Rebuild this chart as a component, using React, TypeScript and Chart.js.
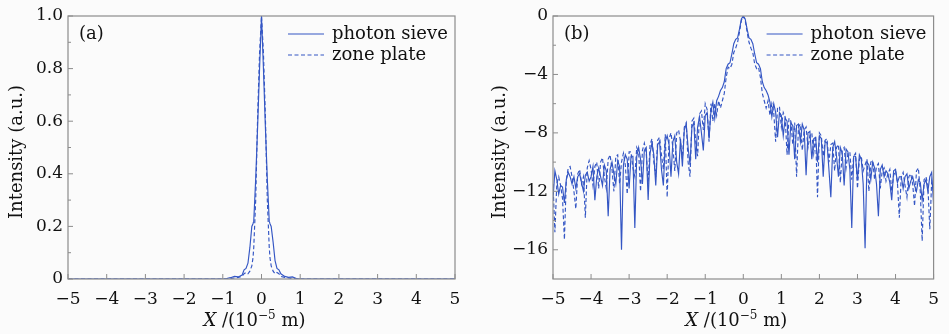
import React, { useEffect, useRef } from "react";
import Chart from "chart.js/auto";

// ---------- data ----------
const X_TICKS = [-5, -4, -3, -2, -1, 0, 1, 2, 3, 4, 5];
const A_Y_TICKS = [0, 0.2, 0.4, 0.6, 0.8, 1.0];
const A_Y_MINOR = [0.1, 0.3, 0.5, 0.7, 0.9];
const B_Y_TICKS = [0, -4, -8, -12, -16];
const B_Y_MINOR = [-2, -6, -10, -14];

// panel (a): linear intensity
const A_X = [-5, -1.0, -0.9, -0.8, -0.7, -0.6, -0.5, -0.45, -0.4, -0.35, -0.3, -0.25, -0.22, -0.2, -0.15, -0.1, -0.05, 0,
  0.05, 0.1, 0.15, 0.2, 0.22, 0.25, 0.3, 0.35, 0.4, 0.45, 0.5, 0.6, 0.7, 0.8, 0.9, 1.0, 5];
const A_SIEVE = [0, 0, 0.002, 0.005, 0.01, 0.008, 0.015, 0.035, 0.04, 0.06, 0.12, 0.2, 0.21, 0.22, 0.38, 0.58, 0.8, 1.0,
  0.8, 0.58, 0.38, 0.22, 0.21, 0.2, 0.14, 0.07, 0.04, 0.035, 0.02, 0.01, 0.006, 0.008, 0.002, 0, 0];
const A_ZONE = [0, 0, 0, 0.002, 0.004, 0.006, 0.01, 0.02, 0.025, 0.02, 0.03, 0.05, 0.08, 0.12, 0.3, 0.62, 0.86, 1.0,
  0.86, 0.62, 0.3, 0.12, 0.08, 0.05, 0.03, 0.02, 0.025, 0.02, 0.01, 0.006, 0.004, 0.002, 0, 0, 0];

// panel (b): logarithmic intensity
const B_X = [
  -5, -4.95, -4.9, -4.85, -4.8, -4.75, -4.7, -4.65, -4.6, -4.55,
  -4.5, -4.45, -4.4, -4.35, -4.3, -4.25, -4.2, -4.15, -4.1, -4.05,
  -4, -3.95, -3.9, -3.85, -3.8, -3.75, -3.7, -3.65, -3.6, -3.55,
  -3.5, -3.45, -3.4, -3.35, -3.3, -3.25, -3.2, -3.15, -3.1, -3.05,
  -3, -2.95, -2.9, -2.85, -2.8, -2.75, -2.7, -2.65, -2.6, -2.55,
  -2.5, -2.45, -2.4, -2.35, -2.3, -2.25, -2.2, -2.15, -2.1, -2.05,
  -2, -1.95, -1.9, -1.85, -1.8, -1.75, -1.7, -1.65, -1.6, -1.55,
  -1.5, -1.45, -1.4, -1.35, -1.3, -1.25, -1.2, -1.15, -1.1, -1.05,
  -1, -0.95, -0.9, -0.85, -0.8, -0.75, -0.7, -0.65, -0.6, -0.55,
  -0.5, -0.45, -0.4, -0.35, -0.3, -0.25, -0.2, -0.15, -0.1, -0.05,
  0,
  0.05, 0.1, 0.15, 0.2, 0.25, 0.3, 0.35, 0.4, 0.45, 0.5,
  0.55, 0.6, 0.65, 0.7, 0.75, 0.8, 0.85, 0.9, 0.95, 1,
  1.05, 1.1, 1.15, 1.2, 1.25, 1.3, 1.35, 1.4, 1.45, 1.5,
  1.55, 1.6, 1.65, 1.7, 1.75, 1.8, 1.85, 1.9, 1.95, 2,
  2.05, 2.1, 2.15, 2.2, 2.25, 2.3, 2.35, 2.4, 2.45, 2.5,
  2.55, 2.6, 2.65, 2.7, 2.75, 2.8, 2.85, 2.9, 2.95, 3,
  3.05, 3.1, 3.15, 3.2, 3.25, 3.3, 3.35, 3.4, 3.45, 3.5,
  3.55, 3.6, 3.65, 3.7, 3.75, 3.8, 3.85, 3.9, 3.95, 4,
  4.05, 4.1, 4.15, 4.2, 4.25, 4.3, 4.35, 4.4, 4.45, 4.5,
  4.55, 4.6, 4.65, 4.7, 4.75, 4.8, 4.85, 4.9, 4.95, 5,
];
const B_SIEVE = [
  -12.5, -10.6, -11.2, -12.2, -11.6, -11.7, -12.8, -11.2, -10.7, -11.0,
  -11.5, -11.0, -11.8, -11.0, -10.8, -11.4, -12.0, -10.9, -10.7, -11.3,
  -11.0, -10.3, -12.6, -11.0, -10.4, -11.0, -11.6, -10.2, -10.6, -13.7,
  -10.5, -10.0, -10.8, -11.5, -9.9, -10.3, -16.0, -10.2, -9.5, -9.8,
  -11.8, -9.6, -9.6, -14.5, -9.6, -9.0, -9.8, -11.5, -9.2, -9.0,
  -12.6, -9.4, -8.7, -9.5, -11.6, -8.8, -8.6, -10.5, -11.6, -8.6,
  -8.2, -8.8, -11.0, -8.6, -8.2, -10.0, -10.8, -8.4, -10.3, -7.8,
  -7.4, -9.0, -10.2, -7.6, -7.3, -9.8, -7.6, -6.9, -8.0, -9.2,
  -6.8, -6.6, -8.4, -6.5, -5.9, -7.0, -5.8, -5.5, -5.1, -4.9,
  -4.5, -3.6, -3.3, -3.2, -2.6, -1.9, -1.6, -1.5, -0.9, -0.2,
  0,
  -0.2, -0.9, -1.5, -1.6, -1.9, -2.6, -3.2, -3.3, -3.6, -4.5,
  -4.9, -5.1, -5.4, -5.9, -6.9, -6.0, -6.6, -8.3, -6.6, -6.8,
  -8.2, -7.0, -7.2, -9.5, -7.3, -7.5, -9.8, -7.5, -7.4, -8.6,
  -7.4, -7.8, -10.9, -8.0, -7.9, -9.8, -8.4, -8.3, -10.0, -8.2,
  -8.4, -11.0, -8.6, -8.7, -10.5, -12.4, -9.0, -8.6, -9.6, -11.0,
  -9.0, -9.4, -11.6, -9.1, -9.3, -10.5, -14.5, -9.6, -9.6, -11.2,
  -9.5, -9.8, -11.5, -15.9, -10.0, -10.2, -11.2, -10.0, -10.4, -11.5,
  -13.7, -10.5, -10.2, -11.0, -10.6, -10.8, -11.4, -12.6, -10.6, -10.5,
  -11.4, -11.0, -11.0, -11.8, -11.0, -10.8, -11.8, -11.3, -11.0, -11.6,
  -12.0, -11.2, -11.4, -12.6, -11.5, -11.2, -12.0, -11.0, -10.7, -12.9,
];
const B_ZONE = [
  -11.5, -14.8, -11.5, -11.0, -11.6, -12.5, -15.3, -11.2, -10.4, -10.3,
  -11.0, -12.0, -13.2, -10.8, -10.5, -11.5, -11.0, -13.8, -10.4, -9.9,
  -10.5, -11.6, -10.3, -10.0, -11.8, -10.0, -9.7, -11.0, -11.8, -9.8,
  -9.5, -10.5, -12.0, -9.6, -9.5, -11.5, -10.0, -9.4, -10.2, -12.2,
  -9.3, -9.3, -10.4, -11.0, -9.0, -9.3, -12.0, -9.2, -8.7, -9.4,
  -11.5, -8.8, -8.4, -10.0, -11.0, -8.5, -8.3, -9.5, -10.5, -8.1,
  -12.4, -8.4, -8.0, -9.0, -10.6, -8.0, -7.8, -8.6, -9.8, -7.6,
  -7.3, -10.0, -11.0, -7.2, -7.0, -8.6, -9.6, -6.7, -6.5, -7.8,
  -6.0, -6.4, -8.6, -6.0, -7.2, -6.0, -6.8, -5.8, -6.3, -5.8,
  -5.3, -4.2, -3.5, -3.6, -3.3, -2.5, -2.2, -1.8, -1.1, -0.3,
  0,
  -0.3, -1.1, -1.8, -2.2, -2.5, -3.3, -3.6, -3.5, -4.2, -5.3,
  -5.8, -6.3, -5.8, -6.8, -6.0, -6.6, -8.6, -6.3, -6.2, -7.6,
  -6.6, -6.9, -9.5, -7.0, -7.2, -8.8, -7.3, -11.0, -7.6, -7.4,
  -9.2, -7.8, -7.6, -9.0, -8.2, -8.0, -9.4, -8.2, -12.4, -8.0,
  -8.2, -9.6, -8.5, -8.4, -10.0, -8.8, -8.7, -10.6, -9.0, -8.8,
  -11.4, -9.2, -9.0, -10.4, -9.4, -9.3, -11.2, -9.6, -9.4, -11.8,
  -9.8, -9.6, -10.6, -10.2, -9.8, -12.0, -10.0, -9.9, -11.2, -10.3,
  -10.1, -11.8, -10.6, -10.4, -11.3, -10.8, -10.5, -12.0, -10.9, -10.6,
  -11.4, -13.8, -11.0, -10.7, -11.6, -12.4, -11.0, -10.8, -11.5, -13.0,
  -10.6, -10.4, -12.0, -15.4, -11.2, -11.0, -11.6, -14.6, -11.3, -12.0,
];

const SERIES_NAMES = ["photon sieve", "zone plate"];
const Y_TITLE = "Intensity (a.u.)";

// ---------- styles ----------
const FONT = '"DejaVu Serif", serif';
const LINE = "#3456c4";
const AXIS = "#8c8c8c";
const TEXT = "#111111";
const DASH = [4, 2.5];

const minus = (v: number) => (v < 0 ? "\u2212" + Math.abs(v) : String(v));

const decorPlugin = {
  id: "decor",
  afterDatasetsDraw(chart: any, _a: any, o: any) {
    const { ctx, chartArea: ca } = chart;
    const xs = chart.scales.x;
    const ys = chart.scales.y;
    ctx.save();
    // frame
    ctx.strokeStyle = AXIS;
    ctx.lineWidth = 1.2;
    ctx.setLineDash([]);
    ctx.strokeRect(ca.left, ca.top, ca.right - ca.left, ca.bottom - ca.top);
    // inward ticks
    ctx.beginPath();
    X_TICKS.forEach((v) => {
      const px = xs.getPixelForValue(v);
      ctx.moveTo(px, ca.bottom);
      ctx.lineTo(px, ca.bottom - 5);
    });
    o.yMajor.forEach((v: number) => {
      const py = ys.getPixelForValue(v);
      ctx.moveTo(ca.left, py);
      ctx.lineTo(ca.left + 5, py);
    });
    o.yMinor.forEach((v: number) => {
      const py = ys.getPixelForValue(v);
      ctx.moveTo(ca.left, py);
      ctx.lineTo(ca.left + 3, py);
    });
    ctx.lineWidth = 1;
    ctx.stroke();

    // panel tag
    ctx.fillStyle = TEXT;
    ctx.font = `18px ${FONT}`;
    ctx.textBaseline = "middle";
    ctx.textAlign = "left";
    ctx.fillText(o.tag, ca.left + 11, ca.top + 18);

    // legend
    const lx0 = ca.right - 167;
    const lx1 = ca.right - 131;
    const tx = ca.right - 123;
    SERIES_NAMES.forEach((name, i) => {
      const y = ca.top + 18 + i * 21;
      ctx.strokeStyle = LINE;
      ctx.lineWidth = 1.1;
      ctx.setLineDash(i === 0 ? [] : DASH);
      ctx.beginPath();
      ctx.moveTo(lx0, y);
      ctx.lineTo(lx1, y);
      ctx.stroke();
      ctx.setLineDash([]);
      ctx.fillStyle = TEXT;
      ctx.fillText(name, tx, y);
    });

    // y title
    ctx.save();
    ctx.translate(o.yTitleX, 152);
    ctx.rotate(-Math.PI / 2);
    ctx.textAlign = "center";
    ctx.textBaseline = "middle";
    ctx.font = `18px ${FONT}`;
    ctx.fillText(Y_TITLE, 0, 0);
    ctx.restore();

    // x title: X /(10^-5 m)
    const parts = [
      { t: "X", f: `italic 18px ${FONT}`, dy: 0 },
      { t: " /(10", f: `18px ${FONT}`, dy: 0 },
      { t: "\u22125", f: `12px ${FONT}`, dy: -7 },
      { t: " m)", f: `18px ${FONT}`, dy: 0 },
    ];
    let total = 0;
    parts.forEach((p) => {
      ctx.font = p.f;
      total += ctx.measureText(p.t).width;
    });
    let cx = (ca.left + ca.right) / 2 - 7 - total / 2;
    ctx.textAlign = "left";
    ctx.textBaseline = "alphabetic";
    parts.forEach((p) => {
      ctx.font = p.f;
      ctx.fillText(p.t, cx, 326 + p.dy);
      cx += ctx.measureText(p.t).width;
    });
    ctx.restore();
  },
};

function makeConfig(p: any) {
  const tickFont = { family: FONT, size: 17 };
  return {
    type: "line",
    data: {
      datasets: [
        {
          label: SERIES_NAMES[0],
          data: p.x.map((x: number, i: number) => ({ x, y: p.sieve[i] })),
          borderColor: LINE,
          borderWidth: 1.15,
          pointRadius: 0,
          tension: 0,
          fill: false,
        },
        {
          label: SERIES_NAMES[1],
          data: p.x.map((x: number, i: number) => ({ x, y: p.zone[i] })),
          borderColor: LINE,
          borderWidth: 1.15,
          borderDash: DASH,
          pointRadius: 0,
          tension: 0,
          fill: false,
        },
      ],
    },
    options: {
      responsive: false,
      animation: false,
      devicePixelRatio: 1,
      events: [],
      layout: { padding: { left: 0, right: p.padRight, top: 16, bottom: 0 } },
      plugins: {
        legend: { display: false },
        tooltip: { enabled: false },
        decor: { tag: p.tag, yMajor: p.yTicks, yMinor: p.yMinor, yTitleX: p.yTitleX },
      },
      scales: {
        x: {
          type: "linear",
          min: -5,
          max: 5,
          afterBuildTicks: (s: any) => {
            s.ticks = X_TICKS.map((v) => ({ value: v }));
          },
          afterFit: (s: any) => {
            s.height = 55;
          },
          grid: { display: false, drawTicks: false },
          border: { display: false },
          ticks: {
            autoSkip: false,
            maxRotation: 0,
            padding: 10,
            color: TEXT,
            font: tickFont,
            callback: (v: number) => minus(v),
          },
        },
        y: {
          type: "linear",
          min: p.yMin,
          max: p.yMax,
          afterBuildTicks: (s: any) => {
            s.ticks = p.yTicks.map((v: number) => ({ value: v }));
          },
          afterFit: (s: any) => {
            s.width = p.axisLeft;
          },
          grid: { display: false, drawTicks: false },
          border: { display: false },
          ticks: {
            autoSkip: false,
            padding: 5,
            color: TEXT,
            font: tickFont,
            callback: p.yFmt,
          },
        },
      },
    },
    plugins: [decorPlugin],
  };
}

export default function App() {
  const refA = useRef<HTMLCanvasElement>(null);
  const refB = useRef<HTMLCanvasElement>(null);

  useEffect(() => {
    const a = new Chart(
      refA.current as HTMLCanvasElement,
      makeConfig({
        tag: "(a)",
        x: A_X,
        sieve: A_SIEVE,
        zone: A_ZONE,
        yMin: 0,
        yMax: 1,
        yTicks: A_Y_TICKS,
        yMinor: A_Y_MINOR,
        yFmt: (v: number) => (v === 0 ? "0" : v.toFixed(1)),
        axisLeft: 68,
        padRight: 19,
        yTitleX: 17.5,
      }) as any
    );
    const b = new Chart(
      refB.current as HTMLCanvasElement,
      makeConfig({
        tag: "(b)",
        x: B_X,
        sieve: B_SIEVE,
        zone: B_ZONE,
        yMin: -18,
        yMax: 0,
        yTicks: B_Y_TICKS,
        yMinor: B_Y_MINOR,
        yFmt: (v: number) => minus(v),
        axisLeft: 79,
        padRight: 9,
        yTitleX: 26,
      }) as any
    );
    return () => {
      a.destroy();
      b.destroy();
    };
  }, []);

  return (
    <div
      style={{
        position: "fixed",
        left: 0,
        top: 0,
        width: 949,
        height: 334,
        background: "#fbfbfb",
        overflow: "hidden",
      }}
    >
      <canvas ref={refA} width={474} height={334} style={{ position: "absolute", left: 0, top: 0, width: 474, height: 334 }} />
      <canvas ref={refB} width={475} height={334} style={{ position: "absolute", left: 474, top: 0, width: 475, height: 334 }} />
    </div>
  );
}
